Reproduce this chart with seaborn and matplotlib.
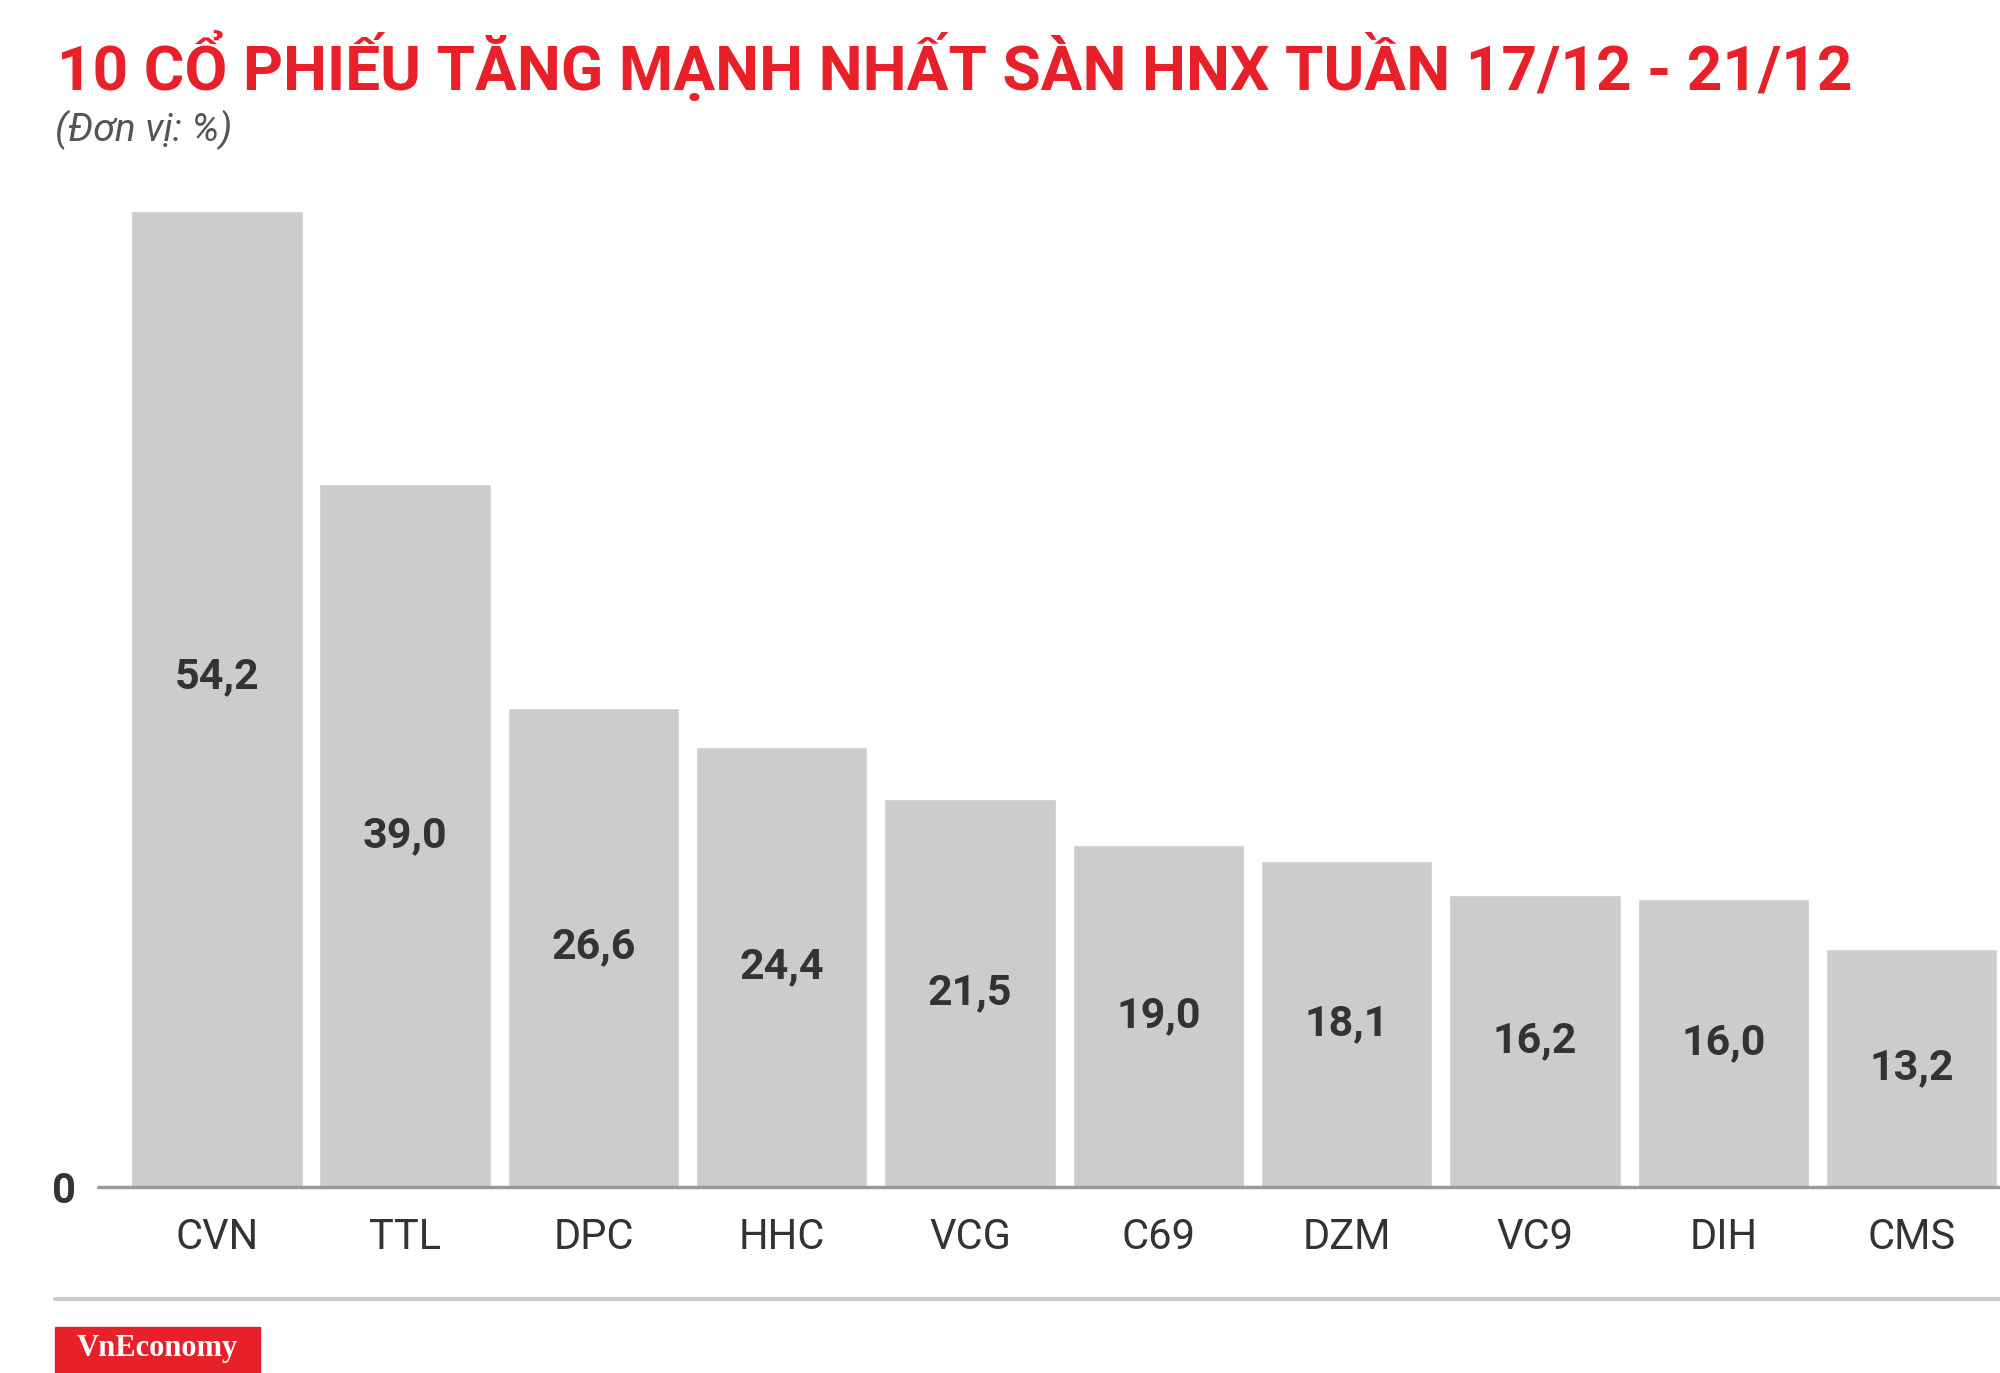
import matplotlib
matplotlib.use("Agg")
import matplotlib.pyplot as plt
import seaborn as sns
import pandas as pd
from matplotlib.patches import Rectangle
from matplotlib.lines import Line2D

tickers = ["CVN", "TTL", "DPC", "HHC", "VCG", "C69", "DZM", "VC9", "DIH", "CMS"]
values = [54.2, 39.0, 26.6, 24.4, 21.5, 19.0, 18.1, 16.2, 16.0, 13.2]
labels = ["54,2", "39,0", "26,6", "24,4", "21,5", "19,0", "18,1", "16,2", "16,0", "13,2"]

sns.set_theme(style="white")
plt.rcParams['font.family'] = ['Roboto', 'DejaVu Sans']

df = pd.DataFrame({"ticker": tickers, "value": values})
fig = plt.figure(figsize=(20, 13.73), dpi=100)
W, H = 1568, 1076
ax = fig.add_axes([77/W, 1-930/H, 1-77/W, (930-165)/H])
sns.barplot(data=df, x="ticker", y="value", color="#cdcbcb", saturation=1, width=0.91, ax=ax)
ax.set_xlim(-0.63, 9.47)
ax.set_ylim(0, 54.2)
for s in ax.spines.values():
    s.set_visible(False)
ax.axhline(0, color="#9a9a9a", lw=2.5, clip_on=False)
ax.set_xlabel(""); ax.set_ylabel("")
ax.set_yticks([0]); ax.set_yticklabels(["0"], fontsize=30, fontweight="bold", color="#333333")
ax.tick_params(axis="y", length=0, pad=16)
ax.tick_params(axis="x", length=0, pad=22, labelsize=30, labelcolor="#333333")
for i, (v, t) in enumerate(zip(values, labels)):
    ax.text(i, v/2 + (1.2 if i == 0 else 0), t, ha="center", va="center", fontsize=31,
            fontweight="bold", color="#333333")

fig.text(45/W, 1-52/H, "10 CỔ PHIẾU TĂNG MẠNH NHẤT SÀN HNX TUẦN 17/12 - 21/12",
         fontsize=44.7, fontweight="bold", color="#e8202a", va="center", ha="left")
fig.text(43/W, 1-102/H, "(Đơn vị: %)", fontsize=28, style="italic", color="#555555",
         va="center", ha="left")
fig.add_artist(Line2D([43/W, 1], [1-1018/H]*2, color="#cccccc", lw=3, transform=fig.transFigure))
fig.add_artist(Rectangle((43/W, 1-1076/H), 161/W, 36/H, color="#e8202a", transform=fig.transFigure))
fig.text(123/W, 1-1057/H, "VnEconomy", fontsize=22, fontweight="bold", color="white",
         family="Liberation Serif", ha="center", va="center")
fig.savefig("out.png", dpi=100)
